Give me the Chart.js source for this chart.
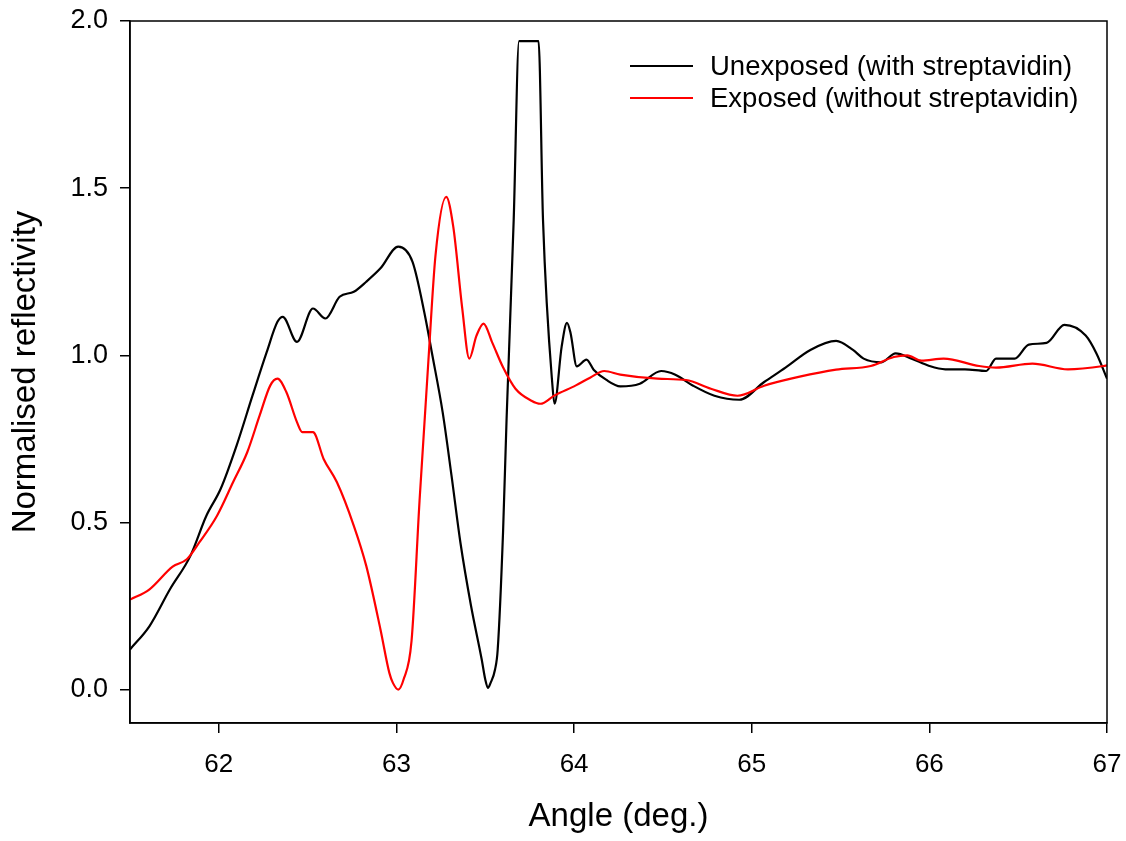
<!DOCTYPE html>
<html>
<head>
<meta charset="utf-8">
<title>Normalised reflectivity vs angle</title>
<script src="https://cdn.jsdelivr.net/npm/chart.js@4"></script>
<style>
  html, body { margin: 0; padding: 0; background: #fff; }
  #wrap { width: 1126px; height: 841px; }
</style>
</head>
<body>
<div id="wrap"><canvas id="spr"></canvas></div>
<script>
// values
const unexposedAngle = [61.50, 61.61, 61.725, 61.84, 61.93, 62.01, 62.10, 62.19, 62.27, 62.33, 62.36, 62.44, 62.53, 62.60, 62.68, 62.76, 62.83, 62.91, 63.01, 63.09, 63.16, 63.20, 63.26, 63.31, 63.36, 63.42, 63.48, 63.50, 63.515, 63.53, 63.555, 63.57, 63.60, 63.62, 63.66, 63.69, 63.80, 63.825, 63.88, 63.89, 63.93, 63.96, 63.98, 64.015, 64.07, 64.11, 64.18, 64.26, 64.37, 64.49, 64.57, 64.67, 64.79, 64.93, 65.07, 65.19, 65.33, 65.475, 65.57, 65.63, 65.73, 65.81, 65.90, 66.00, 66.09, 66.20, 66.32, 66.375, 66.48, 66.56, 66.66, 66.76, 66.88, 66.94, 67.00];
const unexposedRefl = [0.12, 0.19, 0.30, 0.40, 0.52, 0.60, 0.73, 0.88, 1.01, 1.10, 1.115, 1.04, 1.14, 1.11, 1.175, 1.19, 1.22, 1.26, 1.325, 1.28, 1.12, 1.006, 0.83, 0.64, 0.44, 0.25, 0.09, 0.03, 0.005, 0.02, 0.06, 0.12, 0.47, 0.81, 1.405, 1.94, 1.94, 1.405, 0.897, 0.855, 1.026, 1.097, 1.067, 0.967, 0.987, 0.957, 0.927, 0.907, 0.915, 0.953, 0.942, 0.909, 0.879, 0.867, 0.92, 0.963, 1.016, 1.043, 1.016, 0.99, 0.979, 1.006, 0.99, 0.968, 0.958, 0.958, 0.953, 0.99, 0.99, 1.032, 1.037, 1.091, 1.059, 1.006, 0.93];

const exposedAngle = [61.50, 61.61, 61.74, 61.82, 61.89, 61.99, 62.08, 62.16, 62.23, 62.29, 62.33, 62.38, 62.44, 62.47, 62.53, 62.59, 62.665, 62.76, 62.83, 62.91, 62.96, 62.98, 63.01, 63.04, 63.085, 63.13, 63.18, 63.22, 63.28, 63.32, 63.37, 63.41, 63.45, 63.49, 63.54, 63.60, 63.67, 63.76, 63.81, 63.89, 64.01, 64.09, 64.17, 64.26, 64.47, 64.63, 64.77, 64.92, 65.07, 65.27, 65.475, 65.67, 65.80, 65.875, 65.955, 66.08, 66.28, 66.375, 66.58, 66.78, 66.98, 67.00];
const exposedRefl = [0.269, 0.30, 0.368, 0.39, 0.44, 0.52, 0.62, 0.71, 0.82, 0.91, 0.93, 0.89, 0.80, 0.77, 0.77, 0.69, 0.62, 0.49, 0.37, 0.18, 0.05, 0.02, 0.0, 0.03, 0.146, 0.565, 0.985, 1.30, 1.474, 1.384, 1.142, 0.99, 1.058, 1.095, 1.037, 0.964, 0.90, 0.864, 0.855, 0.88, 0.91, 0.933, 0.953, 0.942, 0.93, 0.926, 0.90, 0.879, 0.909, 0.936, 0.957, 0.968, 0.995, 1.0, 0.984, 0.99, 0.968, 0.963, 0.975, 0.958, 0.968, 0.97];

const xTicks = [62, 63, 64, 65, 66, 67];
const yTicks = [0.0, 0.5, 1.0, 1.5, 2.0];

const fontFamily = '"Liberation Sans", Arial, Helvetica, sans-serif';

const toPoints = (xs, ys) => xs.map((x, i) => ({ x: x, y: ys[i] }));

// box round the plot area + legend inside its top right corner
const frameLegend = {
  id: 'frameLegend',
  afterDraw(chart) {
    const ctx = chart.ctx;
    const a = chart.chartArea;
    ctx.save();
    ctx.strokeStyle = '#000';
    ctx.lineWidth = 1.5;
    ctx.strokeRect(a.left, a.top, a.right - a.left, a.bottom - a.top);

    ctx.font = '27.5px ' + fontFamily;
    ctx.textBaseline = 'middle';
    const items = [chart.data.datasets[0], chart.data.datasets[1]];
    const textX = 710;
    items.forEach((ds, i) => {
      const y = 66 + i * 32;
      ctx.strokeStyle = ds.borderColor;
      ctx.lineWidth = 2;
      ctx.beginPath();
      ctx.moveTo(630, y);
      ctx.lineTo(693, y);
      ctx.stroke();
      ctx.fillStyle = '#000';
      ctx.fillText(ds.label, textX, y + 1);
    });
    ctx.restore();
  }
};

// keep the plot area where the reference has it, not pushed in by label overhang
const noOverhang = scale => {
  scale.paddingTop = 0;
  scale.paddingBottom = 0;
  scale.paddingLeft = 0;
  scale.paddingRight = 0;
};

new Chart(document.getElementById('spr'), {
  type: 'line',
  data: {
    datasets: [
      {
        label: 'Unexposed (with streptavidin)',
        data: toPoints(unexposedAngle, unexposedRefl),
        borderColor: '#000000',
        backgroundColor: '#000000',
        borderWidth: 2.2,
        pointRadius: 0,
        cubicInterpolationMode: 'monotone',
        order: 1
      },
      {
        label: 'Exposed (without streptavidin)',
        data: toPoints(exposedAngle, exposedRefl),
        borderColor: '#ff0000',
        backgroundColor: '#ff0000',
        borderWidth: 2.2,
        pointRadius: 0,
        cubicInterpolationMode: 'monotone',
        order: 0
      }
    ]
  },
  options: {
    responsive: true,
    maintainAspectRatio: false,
    animation: false,
    layout: { padding: { left: 0, right: 19, top: 21, bottom: 0 } },
    plugins: {
      legend: { display: false },
      tooltip: { enabled: false }
    },
    scales: {
      x: {
        type: 'linear',
        min: 61.5,
        max: 67,
        afterBuildTicks: scale => { scale.ticks = xTicks.map(v => ({ value: v })); },
        afterFit: scale => { scale.height = 118; noOverhang(scale); },
        ticks: {
          color: '#000',
          font: { family: fontFamily, size: 26 },
          padding: 16,
          maxRotation: 0,
          callback: v => String(v)
        },
        grid: { drawOnChartArea: false, drawTicks: true, tickLength: 10, color: '#000', lineWidth: 1.5 },
        border: { display: true, color: '#000', width: 1.5 },
        title: {
          display: true,
          text: 'Angle (deg.)',
          color: '#000',
          font: { family: fontFamily, size: 33 },
          padding: { top: 18 }
        }
      },
      y: {
        type: 'linear',
        min: -0.1,
        max: 2.0,
        afterBuildTicks: scale => { scale.ticks = yTicks.map(v => ({ value: v })); },
        afterFit: scale => { scale.width = 130; noOverhang(scale); },
        ticks: {
          color: '#000',
          font: { family: fontFamily, size: 27 },
          padding: 12,
          callback: v => Number(v).toFixed(1)
        },
        grid: { drawOnChartArea: false, drawTicks: true, tickLength: 10, color: '#000', lineWidth: 1.5 },
        border: { display: true, color: '#000', width: 1.5 },
        title: {
          display: true,
          text: 'Normalised reflectivity',
          color: '#000',
          font: { family: fontFamily, size: 33 },
          padding: { top: 6, bottom: 0 }
        }
      }
    }
  },
  plugins: [frameLegend]
});
</script>
</body>
</html>
